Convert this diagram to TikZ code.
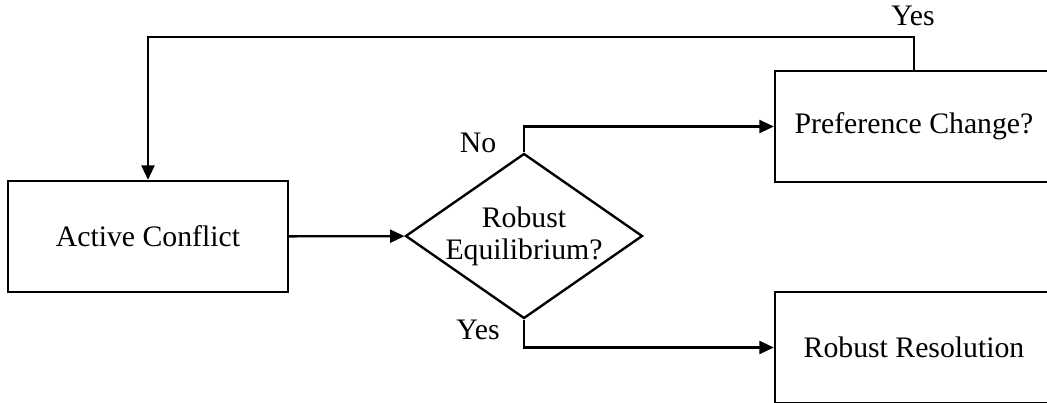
\documentclass[tikz,border=0pt]{standalone}
\usepackage{fontspec}
\setmainfont{Liberation Serif}
\usepackage{tikz}
\usetikzlibrary{shapes,arrows.meta,positioning,calc}

\begin{document}
\begin{tikzpicture}[
    x=0.4pt, y=-0.4pt,
    every node/.style={font=\fontsize{11.9}{12.8}\selectfont},
    stage/.style={rectangle, draw, line width=0.95pt, minimum width=112pt, minimum height=44.4pt, text centered},
    decision/.style={diamond, draw, line width=0.95pt, inner sep=0pt, minimum width=94.8pt, minimum height=66pt},
    arrow/.style={line width=0.95pt, -{Triangle[length=5.8pt, width=5.2pt]}}
]
\clip (0,0) rectangle (1047,402);

\node[stage] (ac) at (148,236.5) {Active Conflict};
\node[decision, label={[align=center, font=\fontsize{11.9}{12.8}\selectfont]center:Robust\\Equilibrium?}] (eq) at (524,236) {};
\node[stage, minimum width=111.2pt] (pc) at (914,126.5) {Preference Change?};
\node[stage, minimum width=111.2pt] (rr) at (914,347.5) {Robust Resolution};
\coordinate (loop) at (0,37);

\draw[arrow] (ac) -- (eq);
\draw[arrow] (eq.north) |- (pc.west);
\draw[arrow] (eq.south) |- (rr.west);
\draw[arrow] (pc.north) -- (pc.north |- loop) -| (ac.north);

\node (no) at (478,143) {No};
\node (yes1) at (478,330) {Yes};
\node (yes2) at (913,16) {Yes};

\end{tikzpicture}
\end{document}
